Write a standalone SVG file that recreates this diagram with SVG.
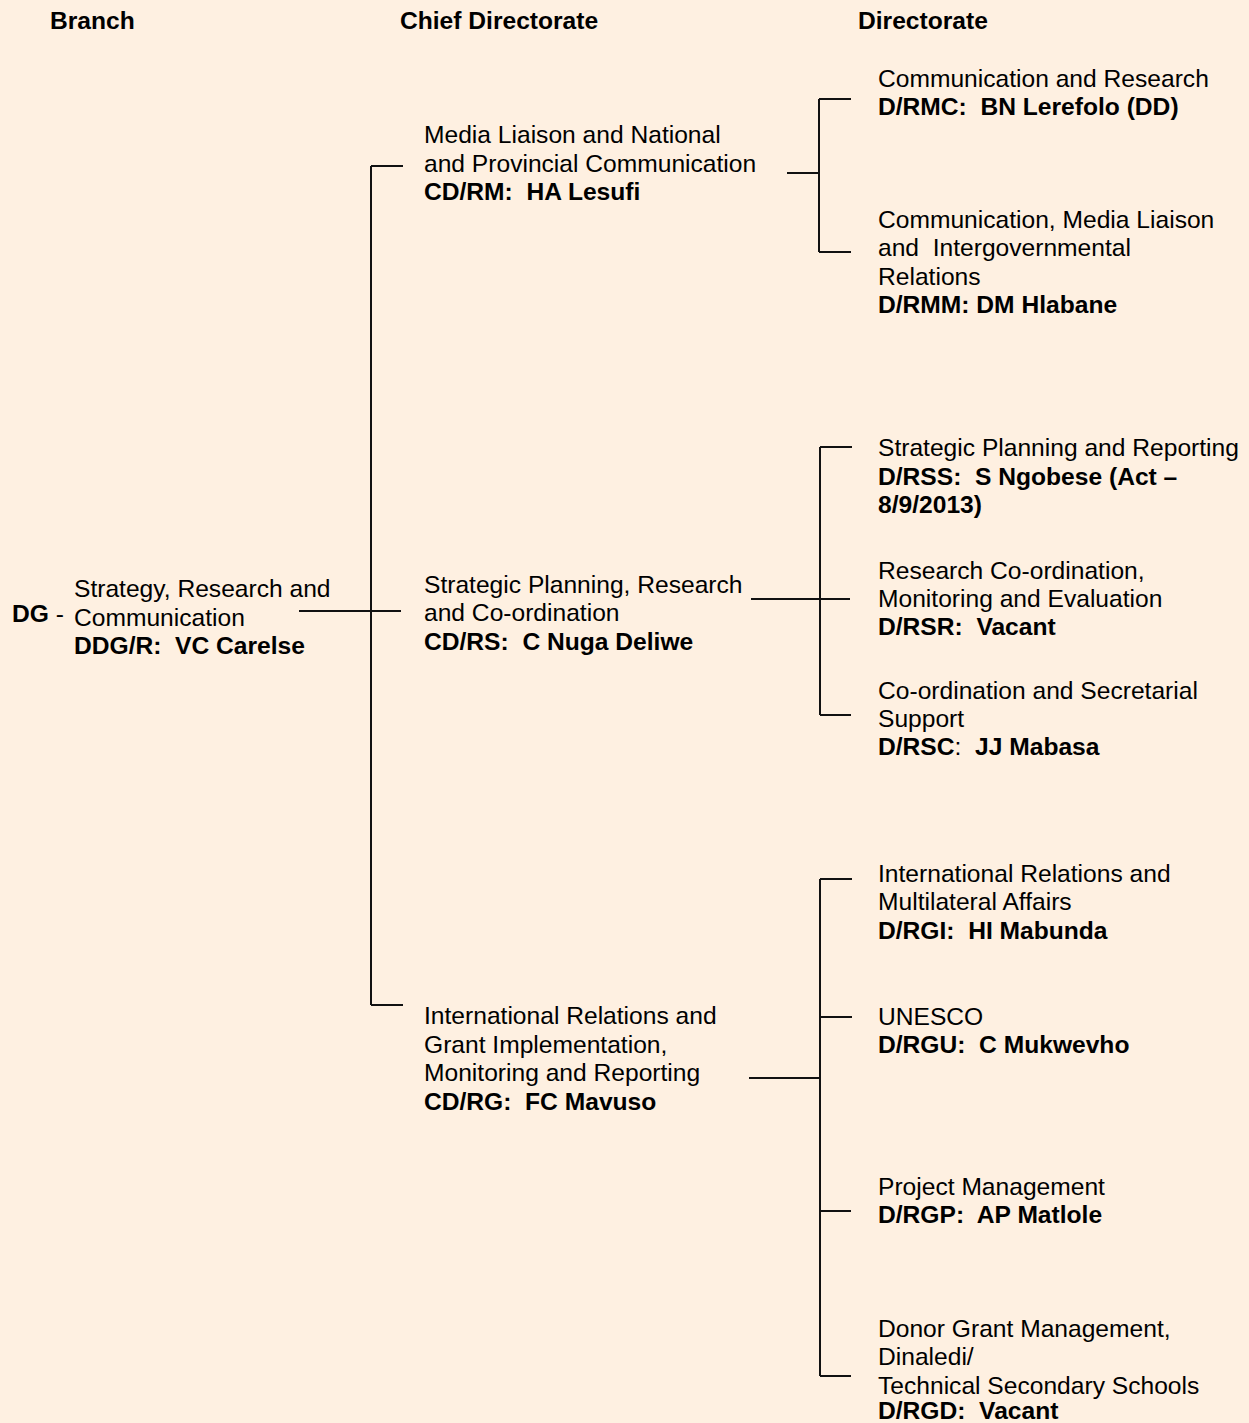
<svg xmlns="http://www.w3.org/2000/svg" width="1249" height="1423" viewBox="0 0 1249 1423">
<style>
text{font-family:"Liberation Sans",Arial,sans-serif;font-size:24.6px;fill:#000;white-space:pre}
.b{font-weight:bold}
.ln{stroke:#111;stroke-width:2;fill:none}
</style>
<rect x="0" y="0" width="1249" height="1423" fill="#FEF0E1"/>
<g id="headers">
<text class="b" x="50" y="29">Branch</text>
<text class="b" x="400" y="29">Chief Directorate</text>
<text class="b" x="858" y="29">Directorate</text>
</g>
<g id="connectors">
<path class="ln" d="M299 611H401M371 166V1005M371 166H403M371 1005H403"/>
<path class="ln" d="M787 173H819M819 99V252M819 99H851M819 252H851"/>
<path class="ln" d="M751 599H850M820 447V715M820 447H852M820 715H851"/>
<path class="ln" d="M749 1078H820M820 879V1376M820 879H852M820 1017H852M820 1211H851M820 1376H851"/>
</g>
<g id="dg">
<text class="b" x="12" y="622">DG <tspan font-weight="normal">-</tspan></text>
<text x="74" y="597">Strategy, Research and</text>
<text x="74" y="625.5">Communication</text>
<text class="b" x="74" y="653.5">DDG/R:  VC Carelse</text>
</g>
<g id="cd-rm">
<text x="424" y="143">Media Liaison and National</text>
<text x="424" y="171.5">and Provincial Communication</text>
<text class="b" x="424" y="200">CD/RM:  HA Lesufi</text>
</g>
<g id="cd-rs">
<text x="424" y="592.5">Strategic Planning, Research</text>
<text x="424" y="621">and Co-ordination</text>
<text class="b" x="424" y="649.5">CD/RS:  C Nuga Deliwe</text>
</g>
<g id="cd-rg">
<text x="424" y="1024">International Relations and</text>
<text x="424" y="1052.5">Grant Implementation,</text>
<text x="424" y="1081">Monitoring and Reporting</text>
<text class="b" x="424" y="1109.5">CD/RG:  FC Mavuso</text>
</g>
<g id="d-rmc">
<text x="878" y="86.5">Communication and Research</text>
<text class="b" x="878" y="114.5">D/RMC:  BN Lerefolo (DD)</text>
</g>
<g id="d-rmm">
<text x="878" y="227.5">Communication, Media Liaison</text>
<text x="878" y="256">and  Intergovernmental</text>
<text x="878" y="284.5">Relations</text>
<text class="b" x="878" y="313">D/RMM: DM Hlabane</text>
</g>
<g id="d-rss">
<text x="878" y="456">Strategic Planning and Reporting</text>
<text class="b" x="878" y="484.5">D/RSS:  S Ngobese (Act –</text>
<text class="b" x="878" y="513">8/9/2013)</text>
</g>
<g id="d-rsr">
<text x="878" y="578.5">Research Co-ordination,</text>
<text x="878" y="607">Monitoring and Evaluation</text>
<text class="b" x="878" y="635">D/RSR:  Vacant</text>
</g>
<g id="d-rsc">
<text x="878" y="699">Co-ordination and Secretarial</text>
<text x="878" y="727">Support</text>
<text class="b" x="878" y="755">D/RSC<tspan font-weight="normal">:</tspan>  JJ Mabasa</text>
</g>
<g id="d-rgi">
<text x="878" y="881.5">International Relations and</text>
<text x="878" y="910">Multilateral Affairs</text>
<text class="b" x="878" y="938.5">D/RGI:  HI Mabunda</text>
</g>
<g id="d-rgu">
<text x="878" y="1024.5">UNESCO</text>
<text class="b" x="878" y="1052.5">D/RGU:  C Mukwevho</text>
</g>
<g id="d-rgp">
<text x="878" y="1194.5">Project Management</text>
<text class="b" x="878" y="1222.5">D/RGP:  AP Matlole</text>
</g>
<g id="d-rgd">
<text x="878" y="1336.5">Donor Grant Management,</text>
<text x="878" y="1365">Dinaledi/</text>
<text x="878" y="1393.5">Technical Secondary Schools</text>
<text class="b" x="878" y="1419">D/RGD:  Vacant</text>
</g>
</svg>
